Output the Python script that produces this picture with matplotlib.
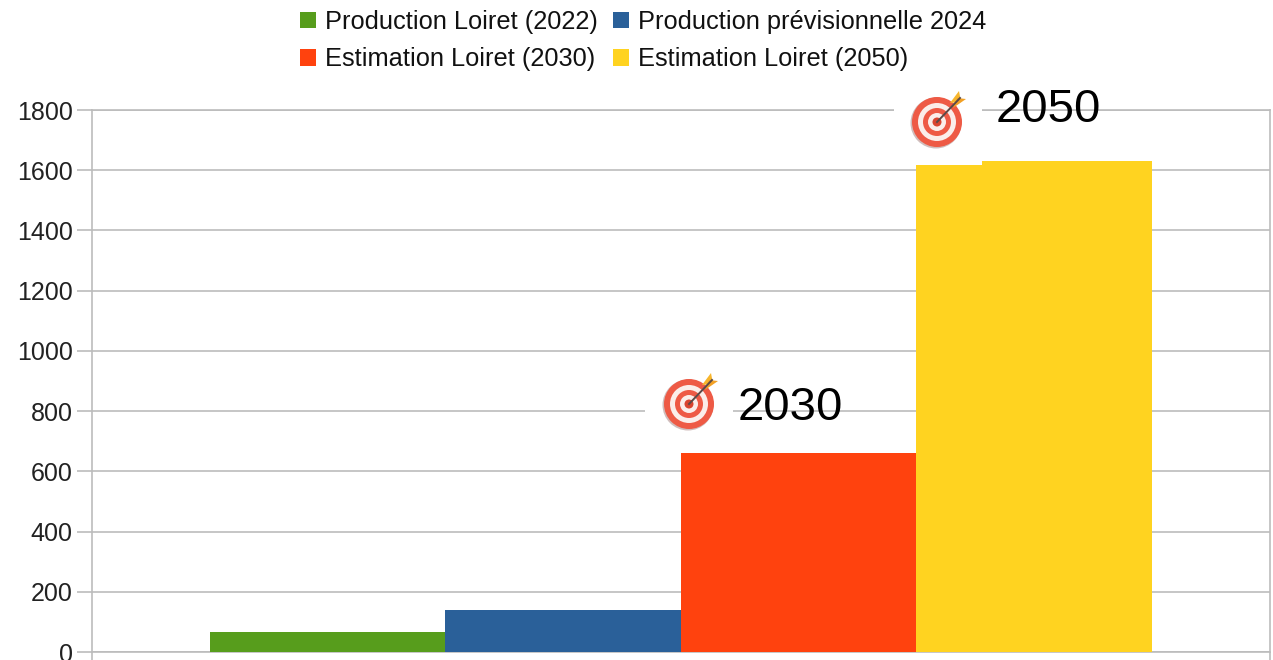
import matplotlib.pyplot as plt
from matplotlib.patches import Circle, Rectangle, Polygon

plt.rcParams['font.family'] = ['Liberation Sans', 'DejaVu Sans']

# Donnees ----------------------------------------------------------------
labels = ['Production Loiret (2022)', 'Production prévisionnelle 2024',
          'Estimation Loiret (2030)', 'Estimation Loiret (2050)']
values = [65, 139, 660, 1632]
colors = ['#579d1c', '#2a6099', '#ff420e', '#ffd320']
yticks = list(range(0, 1801, 200))
W, H = 1273, 660
GRIS = '#bcbcbc'


def cible(ov, cx, cy):
	# petite cible dessinee a la main, pas de police emoji couleur
	ov.add_patch(Circle((cx - 1, cy + 1), 25.5, fc='#8a5a58', ec='none', alpha=0.4, zorder=5))
	for r, c in [(25, '#ee5a45'), (19, '#fbeeea'), (14, '#ee5a45'), (9, '#fbeeea'), (4.5, '#d9452f')]:
		ov.add_patch(Circle((cx, cy), r, fc=c, ec='none', zorder=6))
	ov.add_patch(Polygon([(cx + 13, cy - 19), (cx + 22, cy - 31), (cx + 24, cy - 20)], fc='#f7b52c', ec='none', zorder=7))
	ov.add_patch(Polygon([(cx + 16, cy - 14), (cx + 29, cy - 23), (cx + 20, cy - 24)], fc='#f2a024', ec='none', zorder=7))
	ov.plot([cx, cx + 23], [cy, cy - 24], color='#5a4a48', lw=1.4, zorder=8)


#--------------------------------------------------
fig = plt.figure(figsize=(W / 100, H / 100), dpi=100)
ax = fig.add_axes([92 / W, 1 - 652 / H, (1269.5 - 92) / W, (652 - 110) / H])

for i in range(len(values)):
	ax.bar(i, values[i], width=1.0, color=colors[i], label=labels[i], zorder=3)

ax.set_xlim(-1, 4)
ax.set_ylim(0, 1800)
ax.set_yticks(yticks)
ax.set_xticks([-1, 4])
ax.set_xticklabels([])
ax.grid(axis='y', color=GRIS, lw=1.2, zorder=0)
ax.tick_params(axis='y', length=11, width=1.2, color=GRIS, labelsize=18, labelcolor='#222222', pad=3)
ax.tick_params(axis='x', length=9, width=1.2, color=GRIS)
for s in ['top', 'right', 'bottom', 'left']:
	ax.spines[s].set_color(GRIS)
	ax.spines[s].set_linewidth(1.2)

h, l = ax.get_legend_handles_labels()
orden = [0, 2, 1, 3]
fig.legend([h[i] for i in orden], [l[i] for i in orden], ncols=2, frameon=False,
	fontsize=18.25, loc='upper left', bbox_to_anchor=(300 / W, 1 - 10 / H), borderaxespad=0, borderpad=0,
	handlelength=0.63, handleheight=0.63, handletextpad=0.35, columnspacing=0.6, labelspacing=0.52,
	labelcolor='#111111')

# capa en pixeles para los recuadros blancos y las cibles
ov = fig.add_axes([0, 0, 1, 1], facecolor='none')
ov.set_xlim(0, W)
ov.set_ylim(H, 0)
ov.axis('off')
ov.add_patch(Rectangle((894, 88), 88, 77, fc='white', ec='none', zorder=4))
ov.add_patch(Rectangle((645, 375), 88, 70, fc='white', ec='none', zorder=4))
cible(ov, 937, 122)
cible(ov, 689, 404)
ov.text(996, 122, '2050', fontsize=34, color='black', va='baseline', ha='left', zorder=9)
ov.text(738, 420, '2030', fontsize=34, color='black', va='baseline', ha='left', zorder=9)

fig.savefig('out.png', dpi=100)
